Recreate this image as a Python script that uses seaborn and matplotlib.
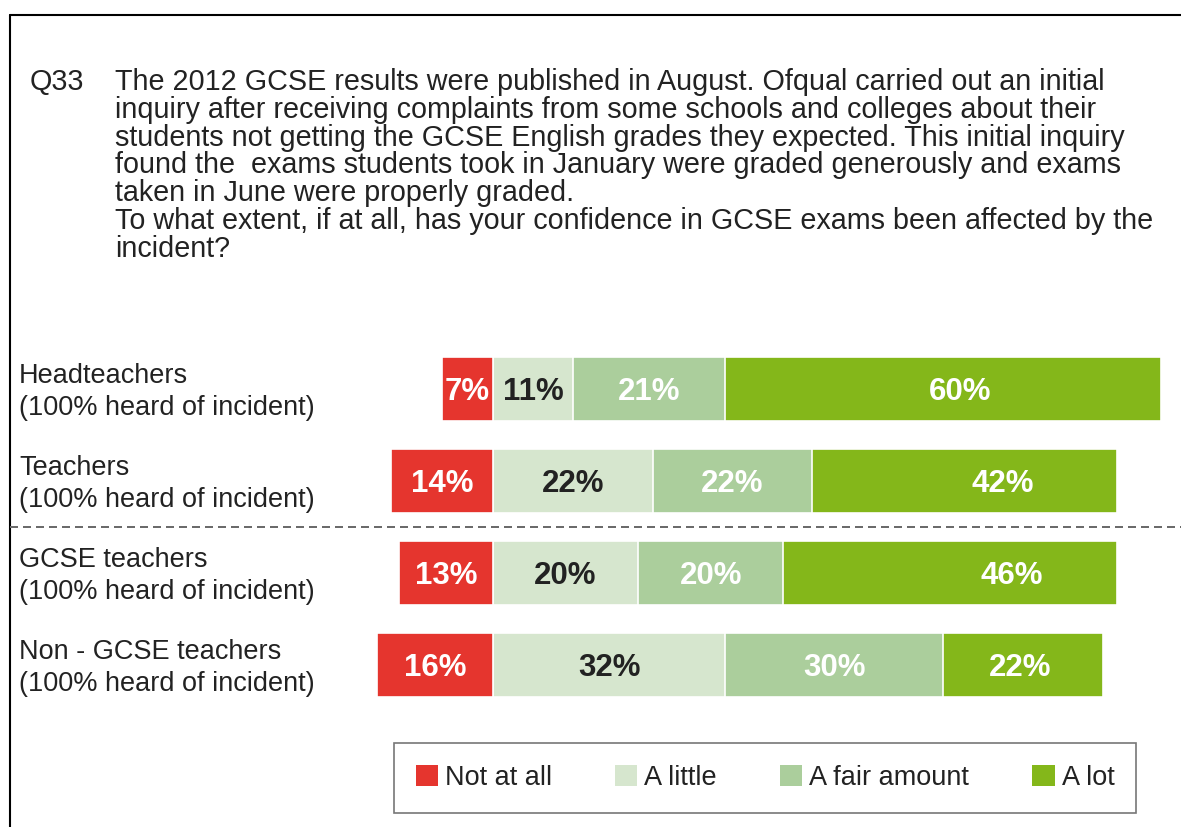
import matplotlib
matplotlib.use("Agg")
import matplotlib.pyplot as plt
import pandas as pd
import seaborn as sns
from matplotlib.lines import Line2D
from matplotlib.patches import Patch

# ---- data -------------------------------------------------------------
groups = ["Headteachers", "Teachers", "GCSE teachers", "Non - GCSE teachers"]
group_note = "(100% heard of incident)"
levels = ["Not at all", "A little", "A fair amount", "A lot"]
not_at_all = [7, 14, 13, 16]
a_little = [11, 22, 20, 32]
a_fair_amount = [21, 22, 20, 30]
a_lot = [60, 42, 46, 22]

question_no = "Q33"
question_lines = [
    "The 2012 GCSE results were published in August. Ofqual carried out an initial",
    "inquiry after receiving complaints from some schools and colleges about their",
    "students not getting the GCSE English grades they expected. This initial inquiry",
    "found the  exams students took in January were graded generously and exams",
    "taken in June were properly graded.",
    "To what extent, if at all, has your confidence in GCSE exams been affected by the",
    "incident?",
]

# ---- styling ------------------------------------------------------------
sns.set_style("white")
plt.rcParams["font.family"] = ["Liberation Sans", "DejaVu Sans"]

colors = ["#E5352E", "#D6E6CE", "#ABCE9C", "#84B71A"]
label_colors = ["white", "#222222", "white", "white"]
text_color = "#222222"

W, H = 1181, 827
fig = plt.figure(figsize=(W / 100, H / 100), dpi=100)
ax = fig.add_axes([0, 0, 1, 1])

# pixel helpers for figure-level text
def fx(px):
    return px / W

def fy(py):
    return 1 - py / H

# bars: "Not at all" runs left of zero, the others stack to the right
df = pd.DataFrame({
    "group": groups,
    "neg": [-v for v in not_at_all],
    "c1": a_little,
    "c2": [a + b for a, b in zip(a_little, a_fair_amount)],
    "c3": [a + b + c for a, b, c in zip(a_little, a_fair_amount, a_lot)],
})

bar_kw = dict(data=df, y="group", orient="h", width=0.70, saturation=1,
              edgecolor="white", linewidth=1.2, ax=ax)
sns.barplot(x="c3", color=colors[3], **bar_kw)
sns.barplot(x="c2", color=colors[2], **bar_kw)
sns.barplot(x="c1", color=colors[1], **bar_kw)
sns.barplot(x="neg", color=colors[0], **bar_kw)

# scale: 7.26 px per percentage point, zero line at x=493 px
ppp = 7.26
ax.set_xlim(-493 / ppp, (W - 493) / ppp)
row_gap = 92
ax.set_ylim((H - 389) / row_gap, (0 - 389) / row_gap)
ax.axis("off")

# value labels
lot_nudge_px = [17, 38, 61, -3]
for i in range(len(groups)):
    starts = [-not_at_all[i], 0, a_little[i], a_little[i] + a_fair_amount[i]]
    vals = [not_at_all[i], a_little[i], a_fair_amount[i], a_lot[i]]
    for k, (s, v) in enumerate(zip(starts, vals)):
        xc = s + v / 2
        if k == 3:
            xc += lot_nudge_px[i] / ppp
        ax.text(xc, i + 0.03, f"{v}%", ha="center", va="center",
                fontsize=22.5, fontweight="bold", color=label_colors[k])

# category labels
for i, g in enumerate(groups):
    cy = 389 + row_gap * i
    fig.text(fx(19), fy(cy - 6), g, fontsize=19.5, color=text_color,
             va="baseline", ha="left")
    fig.text(fx(19), fy(cy + 26), group_note, fontsize=19.5, color=text_color,
             va="baseline", ha="left")

# question text
fig.text(fx(30), fy(90), question_no, fontsize=20.7, color=text_color,
         va="baseline", ha="left")
for j, line in enumerate(question_lines):
    fig.text(fx(115), fy(90 + 27.8 * j), line, fontsize=20.7, color=text_color,
             va="baseline", ha="left")

# frame lines and group divider
fig.add_artist(Line2D([fx(10), 1.0], [fy(15), fy(15)], transform=fig.transFigure,
                      color="black", lw=1.5))
fig.add_artist(Line2D([fx(10), fx(10)], [fy(15), 0.0], transform=fig.transFigure,
                      color="black", lw=1.5))
fig.add_artist(Line2D([fx(10), 1.0], [fy(527), fy(527)], transform=fig.transFigure,
                      color="#6b6b6b", lw=1.44, linestyle=(0, (4, 2.5))))

# legend
handles = [Patch(facecolor=c, edgecolor="none", label=l)
           for c, l in zip(colors, levels)]
leg = ax.legend(handles=handles, ncol=4, loc="center",
                bbox_to_anchor=(fx(765), fy(778)), bbox_transform=fig.transFigure,
                frameon=True, fancybox=False, fontsize=19.5,
                handlelength=0.82, handleheight=0.82, handletextpad=0.26,
                columnspacing=2.33, borderpad=0.8, borderaxespad=0)
leg.get_frame().set_edgecolor("#555555")
leg.get_frame().set_linewidth(1.2)
for t in leg.get_texts():
    t.set_color(text_color)

fig.savefig("out.png", dpi=100)
